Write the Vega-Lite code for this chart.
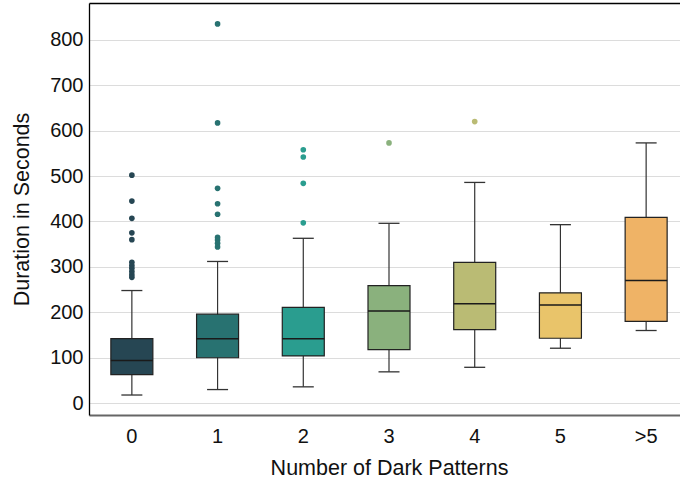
{
  "$schema": "https://vega.github.io/schema/vega-lite/v6.json",
  "autosize": {"type": "none"},
  "width": 591,
  "height": 412,
  "padding": {"left": 89, "top": 3, "right": 0, "bottom": 68},
  "background": "white",
  "datasets": {
    "stats": [
      {"cat": "0", "lower": 18, "q1": 63, "median": 94, "q3": 142, "upper": 248},
      {"cat": "1", "lower": 30, "q1": 100, "median": 142, "q3": 196, "upper": 312},
      {"cat": "2", "lower": 36, "q1": 104, "median": 142, "q3": 211, "upper": 363},
      {"cat": "3", "lower": 69, "q1": 118, "median": 203, "q3": 259, "upper": 396},
      {"cat": "4", "lower": 79, "q1": 162, "median": 219, "q3": 310, "upper": 486},
      {"cat": "5", "lower": 121, "q1": 143, "median": 216, "q3": 243, "upper": 393},
      {"cat": ">5", "lower": 160, "q1": 180, "median": 270, "q3": 409, "upper": 573}
    ],
    "outliers": [
      {"cat": "0", "value": 502}, {"cat": "0", "value": 445}, {"cat": "0", "value": 407},
      {"cat": "0", "value": 375}, {"cat": "0", "value": 360}, {"cat": "0", "value": 310},
      {"cat": "0", "value": 303}, {"cat": "0", "value": 297}, {"cat": "0", "value": 290},
      {"cat": "0", "value": 283}, {"cat": "0", "value": 277},
      {"cat": "1", "value": 835}, {"cat": "1", "value": 617}, {"cat": "1", "value": 473},
      {"cat": "1", "value": 439}, {"cat": "1", "value": 416}, {"cat": "1", "value": 365},
      {"cat": "1", "value": 359}, {"cat": "1", "value": 352}, {"cat": "1", "value": 344},
      {"cat": "2", "value": 558}, {"cat": "2", "value": 542}, {"cat": "2", "value": 484},
      {"cat": "2", "value": 397},
      {"cat": "3", "value": 573},
      {"cat": "4", "value": 620}
    ]
  },
  "resolve": {"axis": {"x": "independent"}},
  "layer": [
    {
      "data": {"name": "stats"},
      "mark": {"type": "rule", "color": "#333333", "strokeWidth": 1.2},
      "encoding": {
        "x": {"field": "cat", "type": "nominal", "sort": ["0", "1", "2", "3", "4", "5", ">5"],
              "scale": {"type": "band", "range": [0, 600], "paddingInner": 0, "paddingOuter": 0},
              "title": "Number of Dark Patterns",
              "axis": {"orient": "bottom", "labelAngle": 0, "ticks": false, "grid": false, "labelPadding": 11, "titlePadding": 11,
                       "domainColor": "#666666", "domainWidth": 2}},
        "y": {"field": "lower", "type": "quantitative", "scale": {"domain": [-26, 881], "nice": false, "zero": false},
              "title": "Duration in Seconds"},
        "y2": {"field": "upper"}
      }
    },
    {
      "data": {"name": "stats"},
      "mark": {"type": "bar", "size": 42, "stroke": "#222222", "strokeWidth": 1.2},
      "encoding": {
        "x": {"field": "cat", "type": "nominal", "sort": ["0", "1", "2", "3", "4", "5", ">5"], "axis": null},
        "y": {"field": "q1", "type": "quantitative", "scale": {"domain": [-26, 881], "nice": false, "zero": false},
              "title": "Duration in Seconds"},
        "y2": {"field": "q3"},
        "color": {"field": "cat", "type": "nominal", "legend": null,
                  "scale": {"domain": ["0", "1", "2", "3", "4", "5", ">5"],
                            "range": ["#264653", "#287271", "#2a9d8f", "#8ab17d", "#babb74", "#e9c46a", "#efb366"]}}
      }
    },
    {
      "data": {"name": "stats"},
      "mark": {"type": "tick", "size": 42, "thickness": 1.4, "color": "#1a1a1a", "opacity": 1},
      "encoding": {
        "x": {"field": "cat", "type": "nominal", "sort": ["0", "1", "2", "3", "4", "5", ">5"], "axis": null},
        "y": {"field": "median", "type": "quantitative", "scale": {"domain": [-26, 881], "nice": false, "zero": false},
              "title": "Duration in Seconds"}
      }
    },
    {
      "data": {"name": "stats"},
      "mark": {"type": "tick", "size": 21, "thickness": 1.3, "color": "#333333", "opacity": 1},
      "encoding": {
        "x": {"field": "cat", "type": "nominal", "sort": ["0", "1", "2", "3", "4", "5", ">5"], "axis": null},
        "y": {"field": "lower", "type": "quantitative", "scale": {"domain": [-26, 881], "nice": false, "zero": false},
              "title": "Duration in Seconds"}
      }
    },
    {
      "data": {"name": "stats"},
      "mark": {"type": "tick", "size": 21, "thickness": 1.3, "color": "#333333", "opacity": 1},
      "encoding": {
        "x": {"field": "cat", "type": "nominal", "sort": ["0", "1", "2", "3", "4", "5", ">5"], "axis": null},
        "y": {"field": "upper", "type": "quantitative", "scale": {"domain": [-26, 881], "nice": false, "zero": false},
              "title": "Duration in Seconds"}
      }
    },
    {
      "data": {"name": "outliers"},
      "mark": {"type": "circle", "size": 32, "opacity": 1},
      "encoding": {
        "x": {"field": "cat", "type": "nominal", "sort": ["0", "1", "2", "3", "4", "5", ">5"],
              "axis": {"orient": "top", "labels": false, "ticks": false, "grid": false, "title": null,
                       "domainColor": "#000000", "domainWidth": 1.5}},
        "y": {"field": "value", "type": "quantitative", "scale": {"domain": [-26, 881], "nice": false, "zero": false},
              "title": "Duration in Seconds"},
        "color": {"field": "cat", "type": "nominal", "legend": null}
      }
    }
  ],
  "config": {
    "view": {"stroke": null},
    "font": "Liberation Sans",
    "axis": {"labelFont": "Liberation Sans", "titleFont": "Liberation Sans", "labelColor": "#111111", "titleColor": "#111111",
             "titleFontWeight": "normal"},
    "axisX": {"labelFontSize": 20, "titleFontSize": 21.5},
    "axisY": {"labelFontSize": 20, "titleFontSize": 21.5, "ticks": false, "labelPadding": 6, "titlePadding": 16,
              "values": [0, 100, 200, 300, 400, 500, 600, 700, 800],
              "gridColor": "#dcdcdc", "gridWidth": 1, "domainColor": "#000000", "domainWidth": 1.3}
  }
}
